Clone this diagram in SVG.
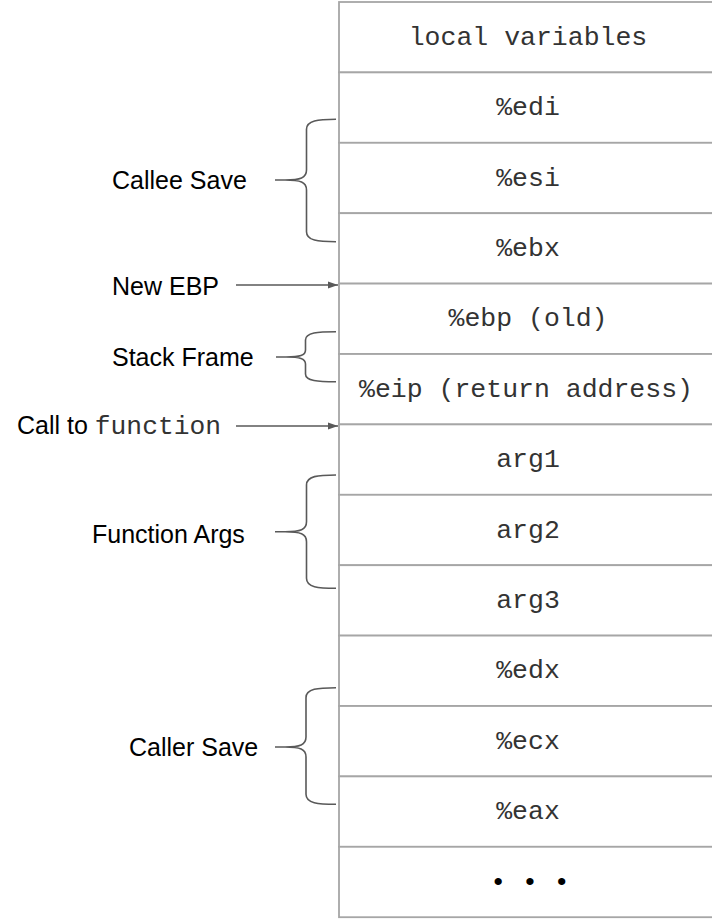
<svg xmlns="http://www.w3.org/2000/svg" width="712" height="919" viewBox="0 0 712 919">
<style>
.cell{fill:#ffffff;stroke:#a6a6a6;stroke-width:1.8}
.mono{font-family:"Liberation Mono","Courier New",monospace;font-size:26.5px;fill:#333;text-anchor:middle}
.lbl{font-family:"Liberation Sans",Arial,sans-serif;font-size:25px;fill:#000}
.brace{fill:none;stroke:#595959;stroke-width:1.6}
.arrow{fill:none;stroke:#595959;stroke-width:1.6;marker-end:url(#ah)}
</style>
<defs>
<marker id="ah" markerUnits="userSpaceOnUse" markerWidth="10" markerHeight="8" refX="10" refY="4" orient="auto">
<path d="M0,0.5 L10,4 L0,7.5 z" fill="#595959"/>
</marker>
</defs>
<rect width="712" height="919" fill="#ffffff"/>
<g id="stack">
<g id="row-local"><rect class="cell" x="339" y="2" width="379" height="70.4"/><text class="mono" x="528" y="44.8">local variables</text></g>
<g id="row-edi"><rect class="cell" x="339" y="72.4" width="379" height="70.4"/><text class="mono" x="528" y="115.2">%edi</text></g>
<g id="row-esi"><rect class="cell" x="339" y="142.8" width="379" height="70.4"/><text class="mono" x="528" y="185.6">%esi</text></g>
<g id="row-ebx"><rect class="cell" x="339" y="213.2" width="379" height="70.4"/><text class="mono" x="528" y="256">%ebx</text></g>
<g id="row-ebp"><rect class="cell" x="339" y="283.6" width="379" height="70.4"/><text class="mono" x="528" y="326.4">%ebp (old)</text></g>
<g id="row-eip"><rect class="cell" x="339" y="354" width="379" height="70.4"/><text class="mono" x="526" y="396.8">%eip (return address)</text></g>
<g id="row-arg1"><rect class="cell" x="339" y="424.4" width="379" height="70.4"/><text class="mono" x="528" y="467.2">arg1</text></g>
<g id="row-arg2"><rect class="cell" x="339" y="494.8" width="379" height="70.4"/><text class="mono" x="528" y="537.6">arg2</text></g>
<g id="row-arg3"><rect class="cell" x="339" y="565.2" width="379" height="70.4"/><text class="mono" x="528" y="608">arg3</text></g>
<g id="row-edx"><rect class="cell" x="339" y="635.6" width="379" height="70.4"/><text class="mono" x="528" y="678.4">%edx</text></g>
<g id="row-ecx"><rect class="cell" x="339" y="706" width="379" height="70.4"/><text class="mono" x="528" y="748.8">%ecx</text></g>
<g id="row-eax"><rect class="cell" x="339" y="776.4" width="379" height="70.4"/><text class="mono" x="528" y="819.2">%eax</text></g>
<g id="row-dots"><rect class="cell" x="339" y="846.8" width="379" height="70.4"/><text class="mono" x="530" y="889.6" style="fill:#000">• • •</text></g>
</g>
<g id="label-callee"><text class="lbl" x="112" y="189">Callee Save</text></g>
<g id="label-newebp"><text class="lbl" x="112" y="295">New EBP</text></g>
<g id="label-stackframe"><text class="lbl" x="112" y="366">Stack Frame</text></g>
<g id="label-call"><text class="lbl" x="17" y="434">Call to <tspan style="font-family:'Liberation Mono','Courier New',monospace;font-size:26.3px;fill:#333">function</tspan></text></g>
<g id="label-funcargs"><text class="lbl" x="92" y="543">Function Args</text></g>
<g id="label-caller"><text class="lbl" x="129" y="756">Caller Save</text></g>
<g id="connectors">
<path class="arrow" d="M236,285 L338,285"/>
<path class="arrow" d="M236,426 L338,426"/>
<path class="brace" d="M336,119.3 C318,119.3 306.5,120.3 306.5,129.3 L306.5,170 C306.5,178 300.5,180 285,180 L275,180 M285,180 C300.5,180 306.5,182 306.5,190 L306.5,231.7 C306.5,240.7 318,241.7 336,241.7"/>
<path class="brace" d="M336,331.7 C318,331.7 305.5,332.5 305.5,340 L305.5,350 C305.5,355.5 300,357 286,357 L276,357 M286,357 C300,357 305.5,358.5 305.5,364 L305.5,374 C305.5,381 318,381.7 336,381.7"/>
<path class="brace" d="M336,475 C318,475 306.5,476 306.5,485 L306.5,521.7 C306.5,529.7 300.5,531.7 285,531.7 L275,531.7 M285,531.7 C300.5,531.7 306.5,533.7 306.5,541.7 L306.5,578.3 C306.5,587.3 318,588.3 336,588.3"/>
<path class="brace" d="M336,687.7 C318,687.7 306,688.7 306,697.7 L306,737 C306,745 300,747 285,747 L275,747 M285,747 C300,747 306,749 306,757 L306,794.3 C306,803.3 318,804.3 336,804.3"/>
</g>
</svg>
